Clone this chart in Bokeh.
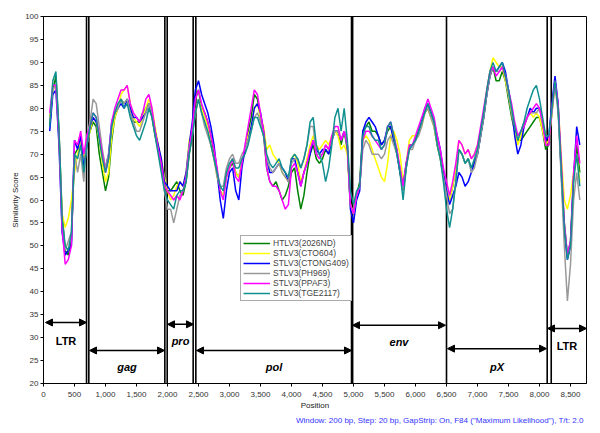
from bokeh.plotting import figure
from bokeh.models import (ColumnDataSource, Arrow, NormalHead, SingleIntervalTicker,
                          NumeralTickFormatter, Title, Legend, LegendItem, Range1d)
from bokeh.core.properties import value
from bokeh.embed import file_html
from bokeh.resources import INLINE

# ---------------- data ----------------
positions = list(range(100, 8700, 50))

series_names = ["HTLV3(2026ND)", "STLV3(CTO604)", "STLV3(CTONG409)",
                "STLV3(PH969)", "STLV3(PPAF3)", "STLV3(TGE2117)"]
series_colors = ["#008000", "#FFFF00", "#0000FF", "#999999", "#FF00FF", "#109090"]

green = [76,84,87,75,57,49,48,51,70,71,
         73,69,72,75,77,76,70,66,62,65,
         73,78,80,82,81,82,79,77,77,77,
         79,80,81,78,74,71,67,63,62,62,
         63,64,62,61,64,70,74,82,84,80,
         79,77,74,70,66,62,61,65,67,68,
         66,65,68,71,75,78,83,82,78,74,
         67,64,63,64,62,60,61,63,66,67,
         62,58,61,66,70,72,69,68,69,71,
         70,73,75,75,72,75,71,59,57,61,
         64,75,76,77,75,75,74,72,73,75,
         76,73,71,66,62,67,72,72,73,75,
         77,79,80,78,76,72,69,65,62,60,
         63,67,71,70,68,69,67,68,70,74,
         78,83,87,89,86,86,88,86,82,78,
         75,73,73,74,75,76,77,78,78,75,
         71,72,79,86,80,67,55,48,51,65,
         72,66]
yellow = [78,84,85,73,57,54,56,60,66,70,
          73,69,72,75,78,77,73,68,64,66,
          74,78,80,83,84,85,81,78,77,76,
          78,80,82,80,76,72,69,65,62,60,
          61,63,64,63,66,73,75,79,82,80,
          78,76,72,69,65,62,61,65,67,69,
          66,65,68,71,74,76,80,81,78,76,
          71,72,70,69,68,66,65,64,69,70,
          68,64,66,69,72,74,72,71,72,73,
          72,74,75,74,71,72,70,59,57,61,
          63,73,74,73,71,69,67,65,64,68,
          74,75,73,70,64,68,73,74,74,75,
          76,79,80,78,76,72,69,66,62,60,
          63,67,73,72,70,71,69,70,72,75,
          79,84,88,91,90,89,89,86,83,79,
          75,72,74,76,78,79,78,79,78,75,
          72,73,79,85,81,70,60,58,61,66,
          70,64]
blue = [75,83,84,72,53,48,49,50,73,71,
        74,67,72,76,78,77,74,70,67,70,
        77,79,80,81,80,82,80,78,78,77,
        78,79,81,79,75,72,69,64,63,62,
        62,62,64,63,66,72,77,84,86,83,
        81,79,76,72,66,60,56,62,66,67,
        62,60,67,71,73,76,80,81,79,75,
        69,66,66,67,68,67,66,64,69,69,
        66,63,66,68,70,73,71,70,71,71,
        70,73,75,75,73,75,72,58,55,60,
        62,75,77,78,77,76,74,72,73,76,
        76,73,70,66,63,68,71,72,73,75,
        77,80,81,79,77,74,71,66,62,59,
        61,63,66,65,63,64,66,68,70,74,
        78,83,87,89,88,89,90,88,84,80,
        74,70,72,76,78,80,79,80,80,77,
        73,74,81,87,81,66,53,47,50,65,
        76,72]
gray = [77,84,85,74,56,49,51,53,70,66,
        70,64,74,77,82,81,76,71,67,70,
        76,79,80,82,81,82,79,77,75,75,
        77,79,81,79,75,71,67,62,58,58,
        55,58,61,62,65,72,74,79,82,79,
        76,74,72,69,65,63,63,67,69,70,
        68,68,70,71,73,75,78,79,77,74,
        69,67,66,67,68,66,65,64,68,69,
        69,67,69,72,76,76,70,70,70,72,
        71,73,75,75,73,75,72,59,57,61,
        63,71,73,72,70,70,70,69,70,73,
        74,72,70,67,62,67,71,71,73,74,
        76,79,80,78,76,72,69,65,61,57,
        58,64,71,70,68,69,66,67,70,74,
        78,83,87,89,88,88,89,87,83,79,
        76,74,75,77,78,79,79,79,80,77,
        74,74,79,85,79,65,50,38,46,60,
        66,60]
magenta = [79,85,85,74,54,46,47,50,73,72,
           75,70,74,76,79,78,74,70,66,69,
           77,80,82,84,84,85,81,79,78,77,
           79,82,83,80,75,71,68,63,62,61,
           60,61,60,62,65,71,76,82,84,81,
           79,77,74,71,67,62,60,65,67,69,
           65,64,68,72,76,80,84,83,79,75,
           67,64,63,63,62,60,58,59,67,68,
           66,63,66,68,71,73,70,69,70,72,
           71,74,76,76,73,75,72,59,57,61,
           63,73,75,75,74,73,72,71,72,76,
           77,74,71,67,63,68,72,72,74,76,
           78,80,82,80,78,74,71,67,64,61,
           64,68,73,72,70,71,69,70,72,76,
           80,84,88,89,87,88,89,87,84,81,
           77,74,75,76,78,79,80,81,80,77,
           72,72,80,86,81,69,55,48,51,66,
           74,68]
teal = [76,86,88,75,56,50,49,53,70,69,
        72,66,72,76,79,78,73,69,66,69,
        76,79,81,82,80,81,78,76,74,73,
        75,77,80,78,74,70,66,62,60,59,
        58,61,62,62,64,70,74,79,82,79,
        77,75,72,69,66,63,62,66,68,69,
        67,67,69,70,72,75,78,78,76,74,
        70,68,67,68,69,67,66,65,69,70,
        69,67,69,72,77,78,72,70,68,64,
        67,72,78,80,75,80,73,62,59,62,
        63,74,76,76,74,73,73,71,72,76,
        77,74,70,66,60,67,71,72,73,75,
        77,79,81,79,77,72,69,64,58,54,
        58,64,71,70,68,69,67,69,71,75,
        79,84,88,90,88,89,90,87,84,80,
        76,73,75,77,80,82,84,85,82,78,
        74,74,80,86,80,67,54,47,50,64,
        70,63]
series_values = [green, yellow, blue, gray, magenta, teal]

# genome region boundaries (double lines) and annotated regions
boundaries = [694, 731, 1957, 1995, 2414, 2457, 4968, 4986, 6500, 8124, 8189]
region_names = ["LTR", "gag", "pro", "pol", "env", "pX", "LTR"]
region_start = [32, 742, 2000, 2468, 4984, 6516, 8129]
region_end = [694, 1952, 2419, 4968, 6484, 8113, 8758]
region_arrow_y = [33.3, 27.2, 32.9, 27.2, 32.7, 27.6, 32.0]
region_label_y = [29.3, 23.6, 29.2, 23.6, 29.0, 23.7, 28.2]

footnote = 'Window: 200 bp, Step: 20 bp, GapStrip: On, F84 ("Maximum Likelihood"), T/t: 2.0'

FONT = "Liberation Sans"

# ---------------- figure ----------------
p = figure(width=592, height=425, output_backend="svg", toolbar_location=None,
           x_range=Range1d(0, 8758), y_range=Range1d(20, 100),
           min_border_left=43, min_border_right=6, min_border_top=16, min_border_bottom=30,
           background_fill_color="white", border_fill_color="white")
p.outline_line_color = "black"
p.outline_line_width = 1
p.xgrid.visible = False
p.ygrid.visible = False

for ax in (p.xaxis[0], p.yaxis[0]):
    ax.axis_line_color = "black"
    ax.major_tick_line_color = "black"
    ax.minor_tick_line_color = None
    ax.major_tick_in = 0
    ax.major_tick_out = 3
    ax.major_label_text_font = FONT
    ax.major_label_text_font_size = "8px"
    ax.major_label_text_color = "#333333"
    ax.axis_label_text_font = FONT
    ax.axis_label_text_font_size = "8px"
    ax.axis_label_text_font_style = "normal"
    ax.axis_label_text_color = "#222222"

p.xaxis.ticker = SingleIntervalTicker(interval=500, num_minor_ticks=0)
p.xaxis.formatter = NumeralTickFormatter(format="0,0")
p.xaxis.axis_label = "Position"
p.xaxis.major_label_standoff = 5
p.xaxis.axis_label_standoff = 1
p.yaxis.ticker = SingleIntervalTicker(interval=5, num_minor_ticks=0)
p.yaxis.axis_label = "Similarity Score"
p.yaxis.major_label_standoff = 2
p.yaxis.axis_label_standoff = 2

# boundaries
p.segment(x0=boundaries, y0=[20] * len(boundaries), x1=boundaries, y1=[100] * len(boundaries),
          line_color="black", line_width=1.6)

# series
items = []
for name, color, vals in zip(series_names, series_colors, series_values):
    r = p.line(positions, vals, line_color=color, line_width=1.5)
    items.append(LegendItem(label=name, renderers=[r]))

legend = Legend(items=items, location=(197, 82), orientation="vertical",
                label_text_font=FONT, label_text_font_size="8.5px",
                label_height=10, glyph_height=10, glyph_width=27,
                label_standoff=3, spacing=0, padding=2, margin=0,
                border_line_color="#555555", border_line_width=1,
                background_fill_color="white", background_fill_alpha=1)
p.add_layout(legend, "center")

# region arrows
arrow_src = ColumnDataSource(dict(xs=region_start, xe=region_end, y=region_arrow_y))
p.add_layout(Arrow(x_start="xs", y_start="y", x_end="xe", y_end="y", source=arrow_src,
                   line_color="black", line_width=1.5,
                   start=NormalHead(size=7, fill_color="black", line_color="black"),
                   end=NormalHead(size=7, fill_color="black", line_color="black")))

mid = [(a + b) / 2 for a, b in zip(region_start, region_end)]
ltr_idx = [i for i, n in enumerate(region_names) if n == "LTR"]
gene_idx = [i for i, n in enumerate(region_names) if n != "LTR"]
p.text(x=[mid[i] for i in ltr_idx], y=[region_label_y[i] for i in ltr_idx],
       text=[region_names[i] for i in ltr_idx], text_font=value(FONT),
       text_font_size="11px", text_font_style="bold", text_color="black",
       text_align="center", text_baseline="middle")
p.text(x=[mid[i] for i in gene_idx], y=[region_label_y[i] for i in gene_idx],
       text=[region_names[i] for i in gene_idx], text_font=value(FONT),
       text_font_size="11px", text_font_style="bold italic", text_color="black",
       text_align="center", text_baseline="middle")

# footnote
p.add_layout(Title(text=footnote, align="right", text_font=FONT, text_font_size="8px",
                   text_font_style="normal", text_color="#3333ff", offset=3,
                   standoff=2), "below")

open("out.html", "w").write(file_html(p, INLINE))
